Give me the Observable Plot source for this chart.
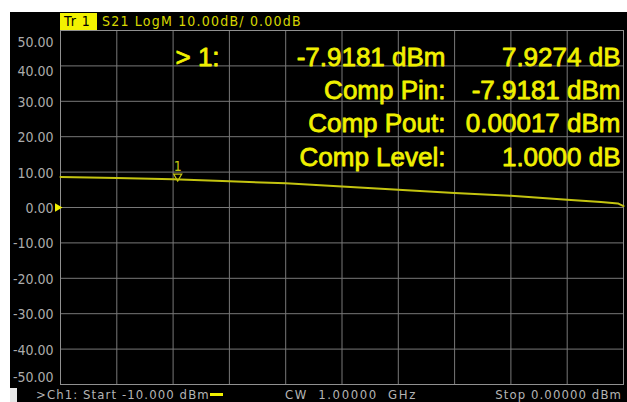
<!DOCTYPE html>
<html><head><meta charset="utf-8">
<script src="https://cdn.jsdelivr.net/npm/d3@7"></script>
<script src="https://cdn.jsdelivr.net/npm/@observablehq/plot@0.6"></script>
<style>
html,body{margin:0;padding:0;background:#fff;width:627px;height:402px;overflow:hidden}
#screen{position:absolute;left:10px;top:12px;width:617px;height:390px;background:#000;overflow:hidden}
#chart{position:absolute;left:0;top:0}
.small{font-family:"Liberation Sans Narrow","DejaVu Sans Condensed","Liberation Sans",sans-serif;white-space:nowrap;position:absolute}
#tr{left:50px;top:1px;width:37px;height:17px;background:#f2f200;color:#000;font-size:14px;line-height:17px;text-indent:4px;letter-spacing:1px}
#hdr{left:92px;top:1px;height:17px;color:#d6d600;font-size:14px;line-height:17px;letter-spacing:1.2px}
#blk{position:absolute;left:0;top:376px;width:7px;height:14px;background:#e8e8e8}
.st{top:376px;height:14px;line-height:14px;color:#b4b4b4;font-size:13px;letter-spacing:1.1px}
#dash{position:absolute;left:200px;top:381px;width:13px;height:3px;background:#f0f000}
</style>
</head><body>
<div id="screen">
  <div id="chart"></div>
  <div id="tr" class="small">Tr 1</div>
  <div id="hdr" class="small"></div>
  <div id="blk"></div>
  <div id="st1" class="small st" style="left:26px"></div>
  <div id="dash"></div>
  <div id="st2" class="small st" style="left:275px;letter-spacing:1.6px;word-spacing:5px"></div>
  <div id="st3" class="small st" style="right:5px"></div>
</div>
<script>
// ---- data ----
const headerText = "S21 LogM 10.00dB/ 0.00dB";
const statusStart = ">Ch1: Start -10.000 dBm";
const statusCenter = "CW 1.00000 GHz";
const statusStop = "Stop 0.00000 dBm";

const xTicks = [-10, -9, -8, -7, -6, -5, -4, -3, -2, -1, 0];
const yTicks = [50, 40, 30, 20, 10, 0, -10, -20, -30, -40, -50];

// Power sweep (dBm) and S21 gain (dB)
const inputDbm = [-10, -9, -8, -7, -6, -5, -4, -3, -2, -1, -0.4, -0.1, 0];
const gainDb   = [8.6, 8.3, 8.0, 7.4, 6.85, 5.95, 5.0, 4.1, 3.3, 2.2, 1.55, 1.15, 0.4];

const markerPin = -7.9181;
const markerGain = 7.9274;
const markerLabel = "1";

const readCol1 = ["> 1:"];
const readCol2 = ["-7.9181 dBm", "Comp Pin:", "Comp Pout:", "Comp Level:"];
const readCol3 = ["7.9274 dB", "-7.9181 dBm", "0.00017 dBm", "1.0000 dB"];

const refLevel = [0];

// ---- build ----
document.getElementById("hdr").textContent = headerText;
document.getElementById("st1").textContent = statusStart;
document.getElementById("st2").textContent = statusCenter;
document.getElementById("st3").textContent = statusStop;

const trace = inputDbm.map((x, i) => ({x, y: gainDb[i]}));
const marker = [{x: markerPin, y: markerGain}];

const YEL = "#f0f000";
const TRACE = "#c4c410";
const GRID = "#787878";
const labelFont = "Liberation Sans Narrow, DejaVu Sans Condensed, Liberation Sans, sans-serif";
const fmt = d => d.toFixed(2);
const mid = yTicks.filter(d => d !== 50 && d !== 40 && d !== -50);

const yLab = (data, dy) => Plot.text(data, {
  y: d => d, text: fmt, frameAnchor: "left", textAnchor: "end",
  dx: -7, dy, fill: "#acacac", fontSize: 14, fontFamily: labelFont
});

const readStyle = {fill: YEL, fontSize: 26, fontFamily: "Liberation Sans, Arial, sans-serif",
  lineAnchor: "top", lineHeight: 1.27, stroke: YEL, strokeWidth: 0.8};

const chart = Plot.plot({
  width: 617, height: 390,
  marginLeft: 50, marginRight: 4, marginTop: 18, marginBottom: 18,
  x: {domain: [-10, 0], axis: null},
  y: {domain: [-50, 50], axis: null},
  style: {background: "#000", overflow: "visible"},
  marks: [
    Plot.ruleX(xTicks, {stroke: GRID, strokeWidth: 1}),
    Plot.ruleY(yTicks, {stroke: GRID, strokeWidth: 1}),
    Plot.frame({stroke: "#909090"}),
    yLab(mid, 1),
    yLab([50], 12),
    yLab([40], 6),
    yLab([-50], -7),
    Plot.dot(refLevel, {y: d => d, frameAnchor: "left", symbol: "triangle", rotate: 90, r: 3.2, fill: YEL, dx: -3}),
    Plot.line(trace, {x: "x", y: "y", stroke: TRACE, strokeWidth: 2}),
    Plot.dot(marker, {x: "x", y: "y", symbol: "triangle", rotate: 180, r: 3, stroke: TRACE, strokeWidth: 1.2, fill: "none", dy: -3}),
    Plot.text(marker, {x: "x", y: "y", text: () => markerLabel, dy: -13, fill: TRACE, fontSize: 14, fontFamily: labelFont}),
    Plot.text([readCol1.join("\n")], {...readStyle, frameAnchor: "top-left", textAnchor: "start", dx: 115, dy: 12.5}),
    Plot.text([readCol2.join("\n")], {...readStyle, frameAnchor: "top-left", textAnchor: "end", dx: 385, dy: 12.5}),
    Plot.text([readCol3.join("\n")], {...readStyle, frameAnchor: "top-right", textAnchor: "end", dx: -3, dy: 12.5})
  ]
});
document.getElementById("chart").appendChild(chart);
</script>
</body></html>
